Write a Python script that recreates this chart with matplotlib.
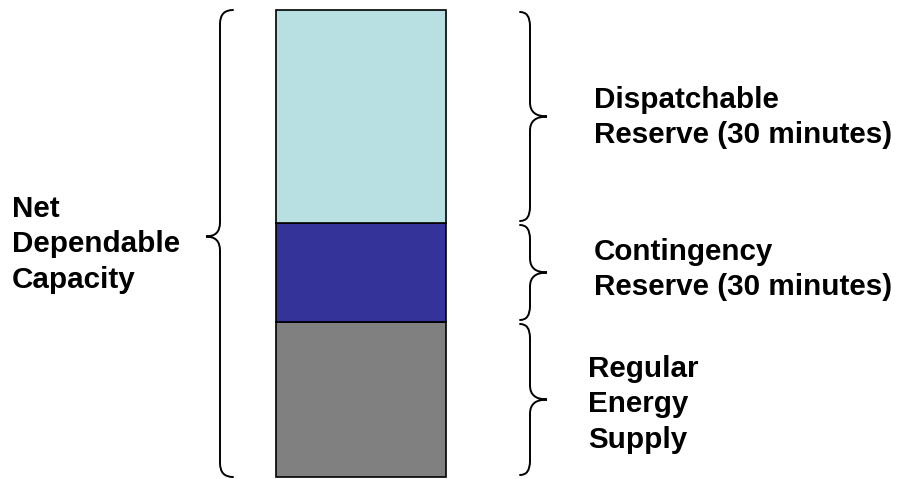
import matplotlib.pyplot as plt
from matplotlib.path import Path
from matplotlib.patches import PathPatch

plt.rcParams['font.family'] = ['Liberation Sans', 'DejaVu Sans']

# stacked segments, bottom to top (heights in chart units)
segments = ["Regular\nEnergy\nSupply",
            "Contingency\nReserve (30 minutes)",
            "Dispatchable\nReserve (30 minutes)"]
heights = [155, 99, 213]
colors = ["#808080", "#333399", "#B8E0E2"]
total_label = "Net\nDependable\nCapacity"

BASE = 2


def brace(ax, y0, y1, xa, xv, xt, ym=None, r=14, lw=1.4):
    """Curly brace from y0 to y1; ends at xa, spine at xv, tip at (xt, ym)."""
    if ym is None:
        ym = (y0 + y1) / 2
    verts = [
        (xa, y0), (xv, y0), (xv, y0 + r),
        (xv, ym - r),
        (xv, ym), (xt, ym),
        (xv, ym), (xv, ym + r),
        (xv, y1 - r),
        (xv, y1), (xa, y1),
    ]
    codes = [Path.MOVETO, Path.CURVE3, Path.CURVE3,
             Path.LINETO,
             Path.CURVE3, Path.CURVE3,
             Path.CURVE3, Path.CURVE3,
             Path.LINETO,
             Path.CURVE3, Path.CURVE3]
    ax.add_patch(PathPatch(Path(verts, codes), fill=False, lw=lw,
                           edgecolor="black", capstyle="round"))


fig = plt.figure(figsize=(9, 4.79), dpi=100)
ax = fig.add_axes([0, 0, 1, 1])
ax.set_xlim(0, 900)
ax.set_ylim(0, 479)
ax.axis("off")

label_x = [588, 594, 594]
label_dy = [-5, 3, -1]

bottom = BASE
for h, c, label, lx, dy in zip(heights, colors, segments, label_x, label_dy):
    ax.bar(361, h, width=170, bottom=bottom, color=c, edgecolor="black",
           linewidth=1.2)
    y0, y1 = bottom + 2, bottom + h - 2
    brace(ax, y0, y1, xa=520, xv=530, xt=547)
    ax.text(lx, (y0 + y1) / 2 + dy, label, ha="left", va="center",
            fontsize=21.3, fontweight="bold", linespacing=1.32)
    bottom += h

top = bottom
brace(ax, BASE, top, xa=233, xv=220, xt=206, ym=(BASE + top) / 2 + 7)
ax.text(12, (BASE + top) / 2 - 1, total_label, ha="left", va="center",
        fontsize=21.3, fontweight="bold", linespacing=1.32)

fig.savefig("out.png", dpi=100)
